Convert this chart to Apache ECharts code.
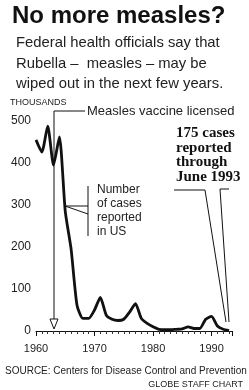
<!DOCTYPE html>
<html><head><meta charset="utf-8">
<script src="https://cdn.jsdelivr.net/npm/echarts@6/dist/echarts.min.js"></script>
<style>html,body{margin:0;padding:0;background:#fff}#c{width:249px;height:390px}</style>
</head><body><div id="c"></div>
<script>
const years = [1960,1961,1962,1963,1964,1965,1966,1967,1968,1969,1970,1971,1972,1973,1974,1975,1976,1977,1978,1979,1980,1981,1982,1983,1984,1985,1986,1987,1988,1989,1990,1991,1992,1993];
const cases = [455,426,488,395,462,285,195,62,30,30,50,80,38,28,25,28,45,65,30,18,10,4,3,3,4,5,10,6,6,28,35,12,4,1];
const yTicks = [0,100,200,300,400,500];
const xTickYears = [1960,1970,1980,1990];
const xTickLabels = ["1960","1970","1980","1990"];
const titleText = "No more measles?";
const subLines = ["Federal health officials say that","Rubella \u2013  measles \u2013 may be","wiped out in the next few years."];
const noteLines = ["Number","of cases","reported","in US"];
const boldLines = ["175 cases","reported","through","June 1993"];

const chart = echarts.init(document.getElementById('c'), null, {renderer:'canvas'});
const F = 'Liberation Sans, Arial, sans-serif';
const txt = (x,y,t,size,opt) => Object.assign({type:'text', x:x, y:y, style:Object.assign({text:t, font: size+'px '+F, fill:'#111', textVerticalAlign:'middle'}, opt||{})});
const ln = (pts,w,opt) => ({type:'polyline', shape:{points:pts}, style:Object.assign({stroke:'#111', lineWidth:w||1, fill:null}, opt||{})});

const graphic = [
  txt(12,16,titleText,0,{font:'bold 24px '+F}),
  ...subLines.map((s,i)=>txt(16,43+i*20.5,s,14.8,{fill:'#222'})),
  txt(10,103,'THOUSANDS',9,{fill:'#222'}),
  txt(87,111,'Measles vaccine licensed',13,{fill:'#222'}),
  ln([[85,111],[54,111],[54,322]],1),
  {type:'polygon', shape:{points:[[50,319],[58,319],[54,329]]}, style:{fill:'#fff', stroke:'#111', lineWidth:1}},
  ...noteLines.map((s,i)=>txt(97,190+i*14,s,12,{fill:'#222'})),
  ln([[88,186],[88,236]],1),
  ln([[88,206],[65,206],[88,214]],1),
  ...boldLines.map((s,i)=>txt(176,133+i*14.8,s,0,{font:'bold 15px Liberation Serif, DejaVu Serif, serif', fill:'#111'})),
  ln([[174,190],[205,190],[226,322]],1),
  ln([[229,189],[220,189],[229,322]],1),
  txt(5,371,'SOURCE: Centers for Disease Control and Prevention',10,{fill:'#222'}),
  txt(243,385,'GLOBE STAFF CHART',9,{fill:'#222', textAlign:'right'})
];

chart.setOption({
  animation:false,
  backgroundColor:'#fff',
  grid:{left:36, right:17, top:121, bottom:59, containLabel:false},
  xAxis:{type:'value', min:1960, max:1993.5, interval:10,
    axisLine:{lineStyle:{color:'#111', width:1}},
    axisTick:{show:true, length:5, lineStyle:{color:'#111'}},
    minorTick:{show:true, splitNumber:10, length:3, lineStyle:{color:'#333'}},
    splitLine:{show:false},
    axisLabel:{color:'#222', fontSize:11, fontFamily:F, margin:12,
      customValues: xTickYears,
      formatter:v=>{const i=xTickYears.indexOf(v); return i>=0?xTickLabels[i]:'';}}
  },
  yAxis:{type:'value', min:0, max:500, interval:100,
    axisLine:{show:false}, axisTick:{show:false}, splitLine:{show:false},
    axisLabel:{color:'#222', fontSize:12, fontFamily:F, margin:5,
      formatter:v=>yTicks.indexOf(v)>=0?String(v):''}
  },
  series:[{type:'line', data:years.map((y,i)=>[y,cases[i]]), symbol:'none', smooth:0.2,
    lineStyle:{color:'#111', width:2.8}}],
  graphic: graphic
});
</script></body></html>
